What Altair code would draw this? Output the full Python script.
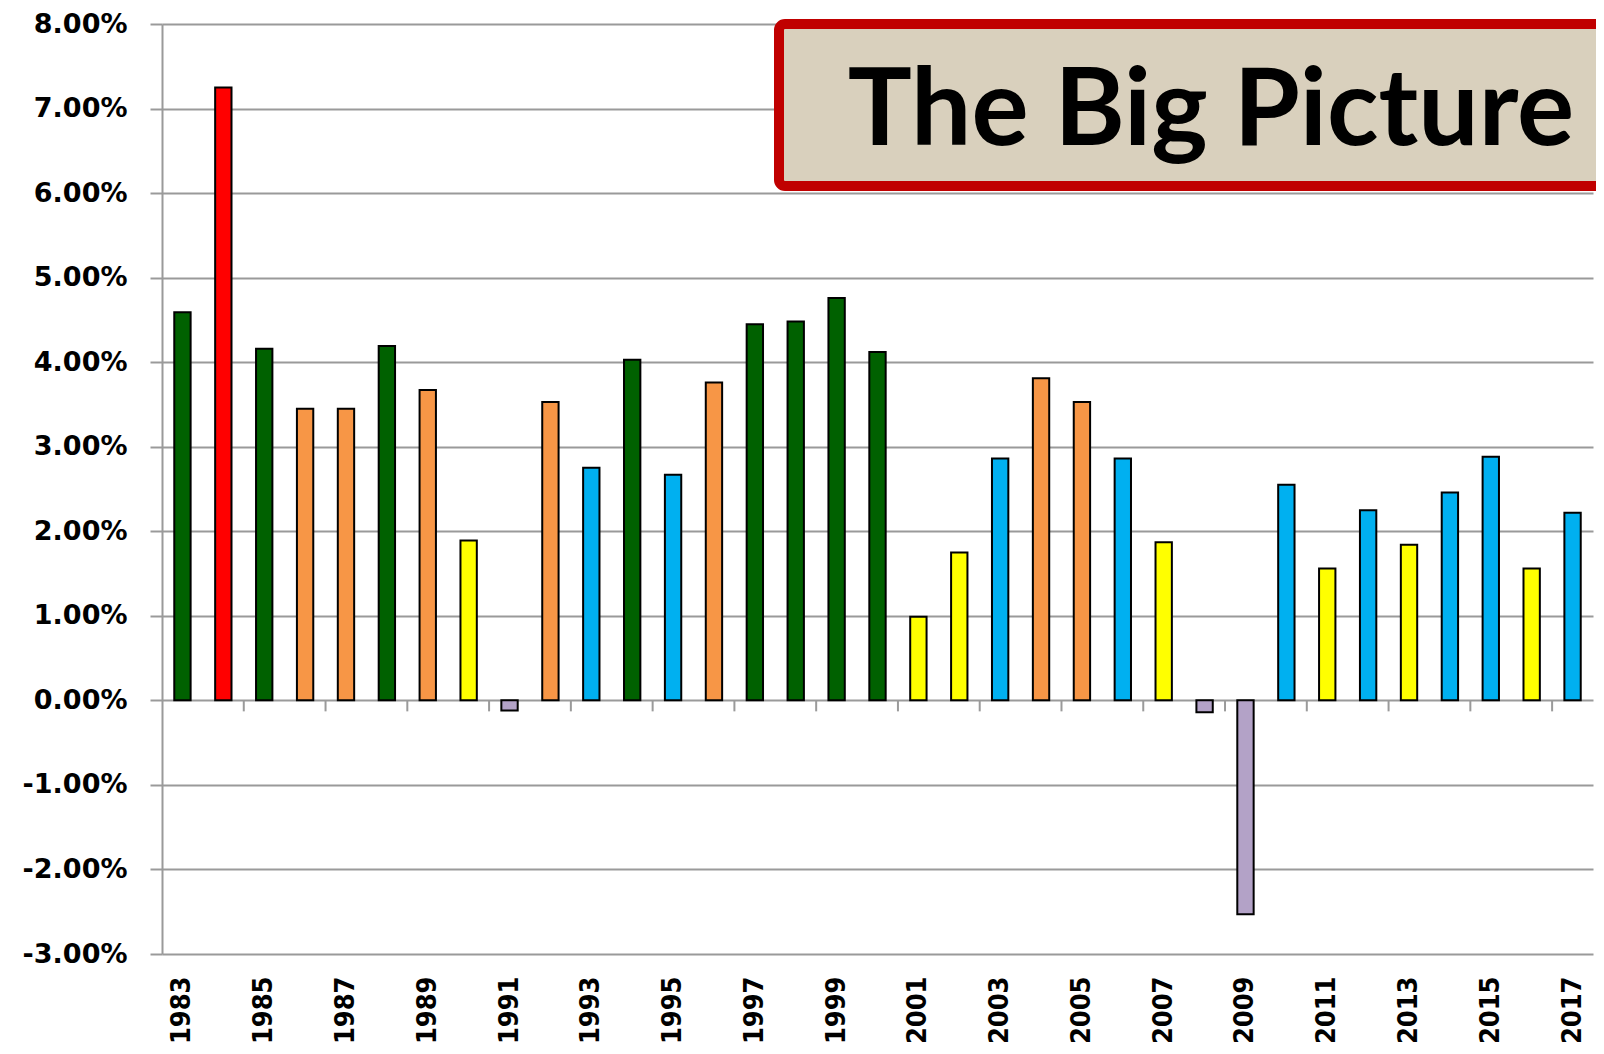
import altair as alt
import pandas as pd

# ---- data ----
years = list(range(1983, 2018))
growth = [4.59, 7.25, 4.16, 3.45, 3.45, 4.19, 3.67, 1.89, -0.12, 3.53,
          2.75, 4.03, 2.67, 3.76, 4.45, 4.48, 4.76, 4.12, 0.99, 1.75,
          2.86, 3.81, 3.53, 2.86, 1.87, -0.14, -2.53, 2.55, 1.56, 2.25,
          1.84, 2.46, 2.88, 1.56, 2.22]
groups = ["G", "R", "G", "O", "O", "G", "O", "Y", "P", "O",
          "B", "G", "B", "O", "G", "G", "G", "G", "Y", "Y",
          "B", "O", "O", "B", "Y", "P", "P", "B", "Y", "B",
          "Y", "B", "B", "Y", "B"]
group_names = ["R", "G", "O", "B", "Y", "P"]
group_colors = ["#ff0000", "#006100", "#f79646", "#00b0f0", "#ffff00", "#b3a2c7"]
y_ticks = list(range(-3, 9))
label_years = [y for y in years if y % 2 == 1]
title_text = ["The Big Picture"]

df = pd.DataFrame({"year": years, "growth": growth, "group": groups})

W, H = 1431, 930
GRID = "#9a9a9a"

x_scale = alt.Scale(paddingInner=0, paddingOuter=0)
y_scale = alt.Scale(domain=[-3, 8], nice=False, zero=False)

x_axis = alt.Axis(values=label_years, labelAngle=270, domain=False,
                  ticks=False, grid=False, labelPadding=22,
                  labelFont="DejaVu Sans Condensed", labelFontWeight="bold",
                  labelFontSize=27, labelColor="black")

bars = alt.Chart(df).mark_bar(
    width=alt.RelativeBandSize(0.4), stroke="black", strokeWidth=2
).encode(
    x=alt.X("year:O", scale=x_scale, title=None, axis=x_axis),
    y=alt.Y("growth:Q", scale=y_scale, title=None,
            axis=alt.Axis(values=y_ticks,
                          labelExpr="(datum.value < 0 ? '-' : '') + format(abs(datum.value), '.2f') + '%'",
                          grid=True, gridColor=GRID, gridWidth=2,
                          tickColor=GRID, tickWidth=2, tickSize=12,
                          domainColor=GRID, domainWidth=2,
                          labelPadding=23, labelFont="DejaVu Sans",
                          labelFontWeight="bold", labelFontSize=27,
                          labelColor="black")),
    color=alt.Color("group:N", scale=alt.Scale(domain=group_names, range=group_colors),
                    legend=None),
)

xticks = alt.Chart(df).transform_filter(
    "datum.year % 2 == 1 && datum.year > 1983"
).mark_rule(color=GRID, strokeWidth=2).encode(
    x=alt.X("year:O", bandPosition=0, scale=x_scale, title=None, axis=x_axis),
    y=alt.datum(0),
    y2=alt.datum(-0.13),
)

box = alt.Chart(pd.DataFrame({"t": title_text})).mark_rect(
    fill="#d9d0bd", stroke="#c00000", strokeWidth=10, cornerRadius=6
).encode(
    x=alt.value(617), x2=alt.value(1480),
    y=alt.value(0), y2=alt.value(162),
)

title = alt.Chart(pd.DataFrame({"t": title_text})).mark_text(
    font="Lato", fontWeight="bold", fontSize=107, color="black",
    align="center", baseline="alphabetic"
).encode(
    text="t:N",
    x=alt.value(1049), y=alt.value(121),
)

chart = alt.layer(bars, xticks, box, title).properties(
    width=W, height=H,
    padding={"left": 154, "top": 16, "right": 3, "bottom": 90},
    autosize=alt.AutoSizeParams(type="none"),
    background="white",
).configure_view(stroke=None)

chart.save("out.html", embed_options={"renderer": "svg", "actions": False})
